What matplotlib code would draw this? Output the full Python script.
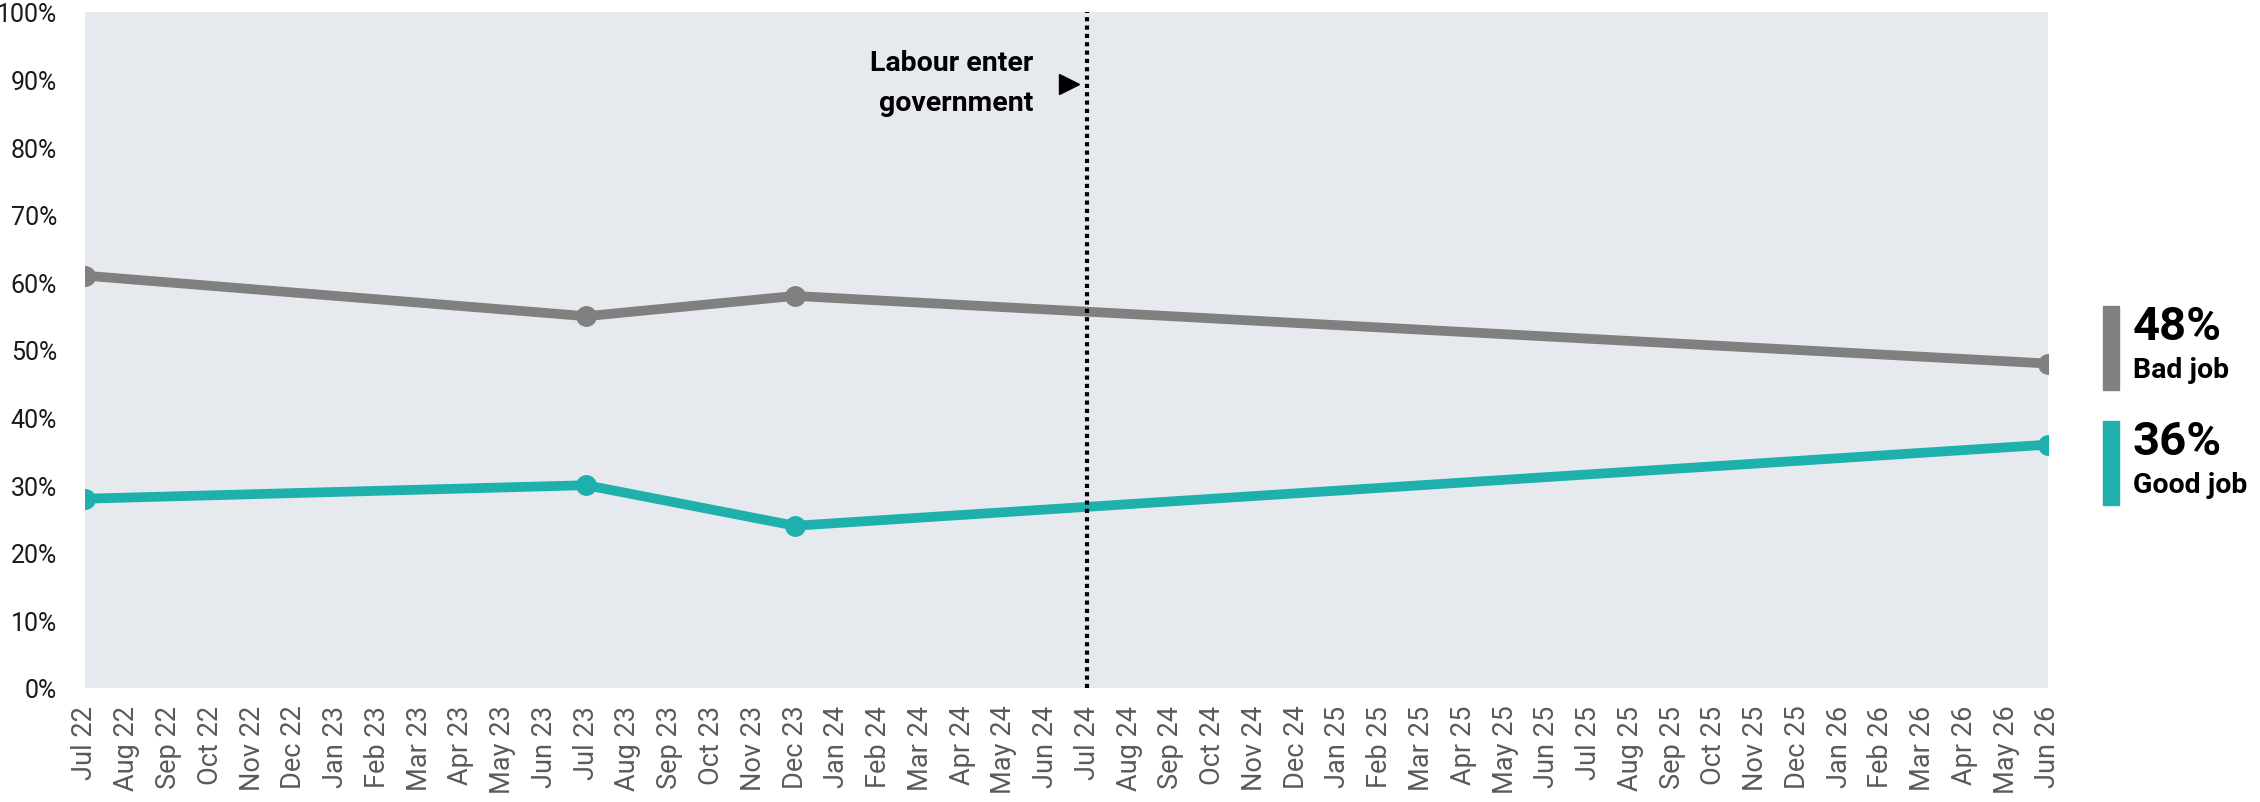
import matplotlib
matplotlib.use("Agg")
import matplotlib.pyplot as plt
from matplotlib.ticker import FuncFormatter

plt.rcParams["font.family"] = ["Roboto", "DejaVu Sans"]

# month labels Jul 22 .. Jun 26
MONTHS = ["Jan", "Feb", "Mar", "Apr", "May", "Jun",
          "Jul", "Aug", "Sep", "Oct", "Nov", "Dec"]
month_labels = []
for k in range(48):
    m = (6 + k) % 12
    y = 22 + (6 + k) // 12
    month_labels.append(f"{MONTHS[m]} {y}")

# survey waves (index into month_labels)
wave_idx = [0, 12, 17, 47]
bad_job = [61, 55, 58, 48]
good_job = [28, 30, 24, 36]
labour_idx = 24  # Jul 24

GREY = "#808080"
TEAL = "#1db0ac"
BG = "#e6e9ee"

fig = plt.figure(figsize=(22.6, 8.03), dpi=100, facecolor="white")
ax = fig.add_axes([85 / 2260, 114 / 803, 1963 / 2260, 676 / 803])
ax.set_facecolor(BG)

ax.plot(wave_idx, bad_job, color=GREY, lw=7, marker="o", ms=14, solid_capstyle="round", zorder=3)
ax.plot(wave_idx, good_job, color=TEAL, lw=7, marker="o", ms=14, solid_capstyle="round", zorder=3)

ax.axvline(labour_idx, color="black", lw=3, ls=(0, (1, 1)), zorder=4)
ax.text(labour_idx - 1.3, 89.6, "Labour enter\ngovernment", ha="right", va="center",
        fontsize=20.5, fontweight="bold", linespacing=1.6)
ax.plot([labour_idx - 0.45], [89.3], marker=">", color="black", ms=14, clip_on=False)

ax.set_xlim(0, 47)
ax.set_ylim(0, 100)
ax.set_xticks(range(48))
ax.set_xticklabels(month_labels, rotation=90, fontsize=19.5, color="#5a5a5a")
ax.set_yticks(range(0, 101, 10))
ax.yaxis.set_major_formatter(FuncFormatter(lambda v, p: f"{v:.0f}%"))
ax.tick_params(axis="y", labelsize=18, colors="#1a1a1a", length=0, pad=20)
ax.tick_params(axis="x", length=0, pad=12)
for s in ax.spines.values():
    s.set_visible(False)

# right-hand end labels
for val, name, col, ytop in [(bad_job[-1], "Bad job", GREY, 307), (good_job[-1], "Good job", TEAL, 422)]:
    fig.patches.append(plt.Rectangle((2103 / 2260, 1 - (ytop + 84) / 803), 16 / 2260, 84 / 803,
                                     transform=fig.transFigure, color=col))
    fig.text(2133 / 2260, 1 - (ytop + 20) / 803, f"{val}%", fontsize=34, fontweight="bold",
             va="center", ha="left")
    fig.text(2133 / 2260, 1 - (ytop + 64) / 803, name, fontsize=20.5, fontweight="bold",
             va="center", ha="left")

fig.savefig("out.png", dpi=100, facecolor="white")
